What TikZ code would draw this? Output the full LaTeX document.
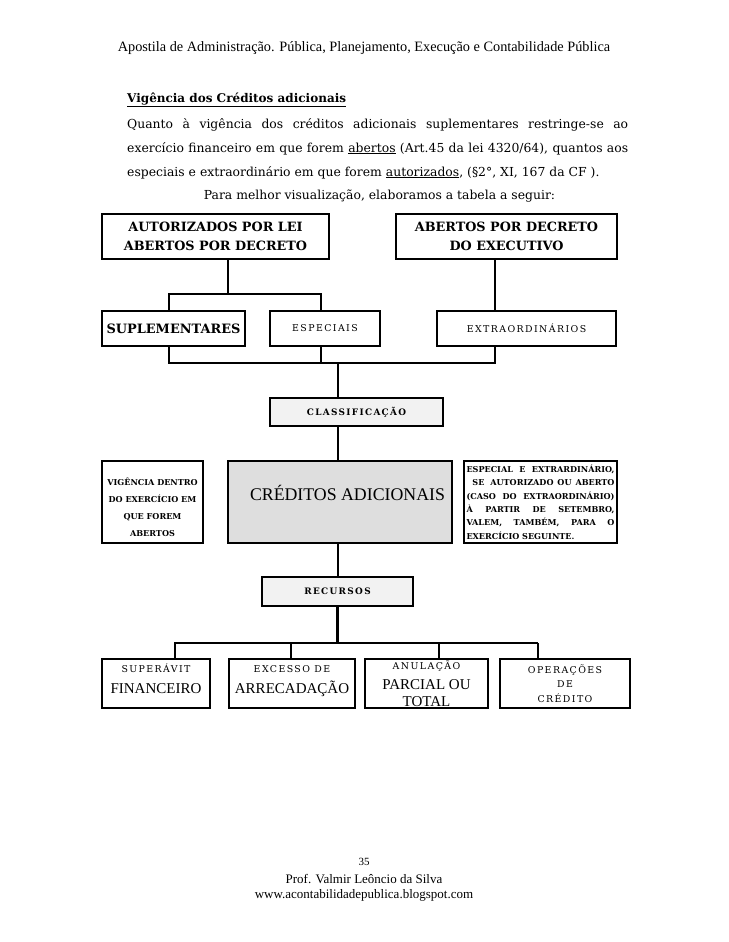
\documentclass[tikz,border=0pt]{standalone}
\usepackage{fontspec}
\setmainfont{DejaVu Serif}
\newfontfamily\timesfont{Liberation Serif}
\newfontfamily\spacedfont[LetterSpace=15]{DejaVu Serif}
\definecolor{PaleGray}{gray}{0.95}
\definecolor{MidGray}{gray}{0.87}

\begin{document}
\begin{tikzpicture}[x=1pt,y=-1pt,
  box/.style={draw,line width=2.4pt,inner sep=0pt,align=center},
  link/.style={line width=2.4pt},
  thinlink/.style={line width=1.2pt},
  heading/.style={font=\bfseries\fontsize{12.8}{19}\selectfont},
  spaced/.style={font=\spacedfont\fontsize{9.4}{14.5}\selectfont},
  spacedbold/.style={font=\spacedfont\bfseries\fontsize{8.9}{14}\selectfont},
  bodytext/.style={anchor=base west,inner sep=0pt,font=\fontsize{12.4}{16}\selectfont}]
\def\smallspaced{\spacedfont\fontsize{9.4}{10}\selectfont}
\useasboundingbox (0,0) rectangle (728,942);

\node[font=\timesfont\fontsize{14.3}{16}\selectfont] (header) at (364,48) {Apostila de Administração. Pública, Planejamento, Execução e Contabilidade Pública};
\node[bodytext,font=\bfseries\fontsize{12}{14}\selectfont] (title) at (127,102) {\underline{Vigência dos Créditos adicionais}};
\node[bodytext] (lineA) at (127,128) {\makebox[501pt][s]{Quanto à vigência dos créditos adicionais suplementares restringe-se ao}};
\node[bodytext] (lineB) at (127,152) {\makebox[501pt][s]{exercício financeiro em que forem \underline{abertos} (Art.45 da lei 4320/64), quantos aos}};
\node[bodytext] (lineC) at (127,176) {especiais e extraordinário em que forem \underline{autorizados}, (§2°, XI, 167 da CF ).};
\node[bodytext,anchor=base] (lineD) at (379.5,199) {Para melhor visualização, elaboramos a tabela a seguir:};

\node[box,heading,minimum width=227pt,minimum height=45pt] (lei) at (215.5,236.5) {AUTORIZADOS POR LEI\\ABERTOS POR DECRETO};
\node[box,heading,minimum width=221pt,minimum height=45pt] (exec) at (506.5,236.5) {ABERTOS POR DECRETO\\DO EXECUTIVO};
\node[box,font=\bfseries\fontsize{12.9}{15}\selectfont,minimum width=143pt,minimum height=35pt] (supl) at (173.5,328.5) {SUPLEMENTARES};
\node[box,spaced,minimum width=110pt,minimum height=35pt] (espec) at (325,328.5) {ESPECIAIS};
\node[box,spaced,minimum width=179pt,minimum height=35pt] (extra) at (526.5,328.5) {EXTRAORDINÁRIOS};
\node[box,spacedbold,fill=PaleGray,minimum width=173pt,minimum height=28pt] (classif) at (356.5,412) {CLASSIFICAÇÃO};
\node[box,font=\bfseries\fontsize{8.1}{16.7}\selectfont,text height=68pt,text depth=0pt,minimum width=101pt,minimum height=82pt] (vigencia) at (152.5,502) {VIGÊNCIA DENTRO\\DO EXERCÍCIO EM\\QUE FOREM\\ABERTOS};
\node[box,fill=MidGray,font=\timesfont\fontsize{17.8}{20}\selectfont,text height=12pt,text depth=16pt,minimum width=224pt,minimum height=82pt] (creditos) at (340,502) {\hspace*{15pt}CRÉDITOS ADICIONAIS};
\node[box,align=left,font=\bfseries\fontsize{8.1}{13.4}\selectfont,minimum width=153pt,minimum height=82pt] (seguinte) at (540.5,502) {\makebox[148pt][s]{ESPECIAL E EXTRARDINÁRIO,}\\\makebox[148pt][s]{\hspace{2pt} SE \hspace{2pt}AUTORIZADO OU ABERTO}\\\makebox[148pt][s]{(CASO DO EXTRAORDINÁRIO)}\\\makebox[148pt][s]{À PARTIR DE SETEMBRO,}\\\makebox[148pt][s]{VALEM, TAMBÉM, PARA O}\\EXERCÍCIO SEGUINTE.};
\node[box,spacedbold,fill=PaleGray,minimum width=151pt,minimum height=29pt] (recursos) at (337.5,591.5) {RECURSOS};

\node[box,font=\timesfont\fontsize{15}{21}\selectfont,text height=30pt,text depth=10pt,minimum width=108pt,minimum height=49pt] (superavit) at (156,683.5) {{\smallspaced SUPERÁVIT}\\FINANCEIRO};
\node[box,font=\timesfont\fontsize{15}{21}\selectfont,text height=30pt,text depth=10pt,minimum width=126pt,minimum height=49pt] (excesso) at (292,683.5) {{\smallspaced EXCESSO DE}\\ARRECADAÇÃO};
\node[box,font=\timesfont\fontsize{15}{17}\selectfont,minimum width=123pt,minimum height=49pt] (anulacao) at (426.5,683.5) {{\smallspaced ANULAÇÃO}\\[3pt]PARCIAL OU\\TOTAL};
\node[box,spaced,minimum width=130pt,minimum height=49pt] (operacoes) at (565,683.5) {OPERAÇÕES\\DE\\CRÉDITO};

\draw[link] ([xshift=12.5pt]lei.south) -- ++(0,34) coordinate (lawJoin);
\draw[link] ([xshift=-4.5pt]supl.north) |- (lawJoin) -| ([xshift=-4pt]espec.north);
\draw[link] ([xshift=-11.5pt]exec.south) -- ([xshift=-31.5pt]extra.north);
\coordinate (classJoin) at (338,363);
\draw[link] ([xshift=-4.5pt]supl.south) |- (classJoin) -| ([xshift=-31.5pt]extra.south);
\draw[link] ([xshift=-4pt]espec.south) -- ++(0,17);
\draw[link] (classJoin) -- (classJoin |- classif.north);
\draw[link] (classJoin |- classif.south) -- (classJoin |- creditos.north);
\draw[link] (classJoin |- creditos.south) -- (classJoin |- recursos.north);
\draw[link] (recursos.south) -- ++(0,36) coordinate (fundJoin);
\coordinate (exTop) at ([xshift=-1pt]excesso.north);
\coordinate (opTop) at ([xshift=-27pt]operacoes.north);
\draw[link] ([xshift=19pt]superavit.north) |- (fundJoin) -| ([xshift=12.5pt]anulacao.north);
\draw[link] (fundJoin) -- (fundJoin -| opTop);
\draw[thinlink] (exTop) -- (exTop |- fundJoin);
\draw[thinlink] (opTop) -- (opTop |- fundJoin);

\node[font=\timesfont\fontsize{11}{13}\selectfont] (page) at (364,862) {35};
\node[font=\timesfont\fontsize{13}{15}\selectfont,align=center] (author) at (364,888) {Prof. Valmir Leôncio da Silva\\www.acontabilidadepublica.blogspot.com};
\end{tikzpicture}
\end{document}
